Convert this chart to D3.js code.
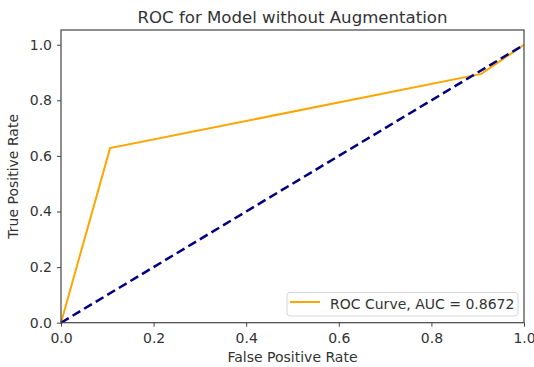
<!DOCTYPE html>
<html><head><meta charset="utf-8">
<script src="https://cdn.jsdelivr.net/npm/d3@7"></script>
<style>body{margin:0;background:#fff}svg{display:block}text{font-family:"DejaVu Sans",sans-serif;fill:#333}</style>
</head><body><svg id="c" width="534" height="367"></svg>
<script>
const fpr = [0, 0.106, 0.908, 1];
const tpr = [0, 0.628, 0.895, 1];
const chanceX = [0, 1];
const chanceY = [0, 1];
const xTicks = [0, 0.2, 0.4, 0.6, 0.8, 1.0];
const yTicks = [0, 0.2, 0.4, 0.6, 0.8, 1.0];
const title = "ROC for Model without Augmentation";
const xLabel = "False Positive Rate";
const yLabel = "True Positive Rate";
const legendLabel = "ROC Curve, AUC = 0.8672";

const svg = d3.select("#c");
const L = 61, R = 524, T = 30, B = 322.7;
const x = d3.scaleLinear().domain([0, 1]).range([L, R]);
const y = d3.scaleLinear().domain([0, 1.053]).range([B, T]);

const line = d3.line().x(d => x(d[0])).y(d => y(d[1]));
svg.append("path").datum(fpr.map((v, i) => [v, tpr[i]]))
  .attr("d", line).attr("fill", "none").attr("stroke", "#FFA500").attr("stroke-width", 2);
svg.append("path").datum(chanceX.map((v, i) => [v, chanceY[i]]))
  .attr("d", line).attr("fill", "none").attr("stroke", "#000080").attr("stroke-width", 2.5)
  .attr("stroke-dasharray", "9,4.5");

// axes
const fmt = d3.format(".1f");
const gx = svg.append("g").attr("transform", `translate(0,${B})`)
  .call(d3.axisBottom(x).tickValues(xTicks).tickFormat(fmt).tickSize(4).tickPadding(6.5));
const gy = svg.append("g").attr("transform", `translate(${L},0)`)
  .call(d3.axisLeft(y).tickValues(yTicks).tickFormat(fmt).tickSize(4).tickPadding(5));
[gx, gy].forEach(g => {
  g.select(".domain").remove();
  g.selectAll("line").attr("stroke", "#444");
  g.selectAll("text").style("font-size", "14px").attr("fill", "#333");
});
svg.append("rect").attr("x", L).attr("y", T).attr("width", R - L).attr("height", B - T)
  .attr("fill", "none").attr("stroke", "#444").attr("stroke-width", 1.2);

svg.append("text").attr("x", (L + R) / 2).attr("y", 23).attr("text-anchor", "middle")
  .style("font-size", "16.6px").text(title);
svg.append("text").attr("x", (L + R) / 2).attr("y", 362).attr("text-anchor", "middle")
  .style("font-size", "14px").text(xLabel);
svg.append("text").attr("transform", `translate(17.5,${(T + B) / 2}) rotate(-90)`)
  .attr("text-anchor", "middle").style("font-size", "14px").text(yLabel);

// legend
const lg = svg.append("g");
lg.append("rect").attr("x", 287).attr("y", 292.5).attr("width", 231).attr("height", 23.5).attr("rx", 3)
  .attr("fill", "#fff").attr("fill-opacity", 0.8).attr("stroke", "#d6d6d6");
lg.append("line").attr("x1", 290).attr("x2", 320).attr("y1", 302).attr("y2", 302)
  .attr("stroke", "#FFA500").attr("stroke-width", 2);
lg.append("text").attr("x", 330).attr("y", 308.5).style("font-size", "14px").text(legendLabel);
</script></body></html>
